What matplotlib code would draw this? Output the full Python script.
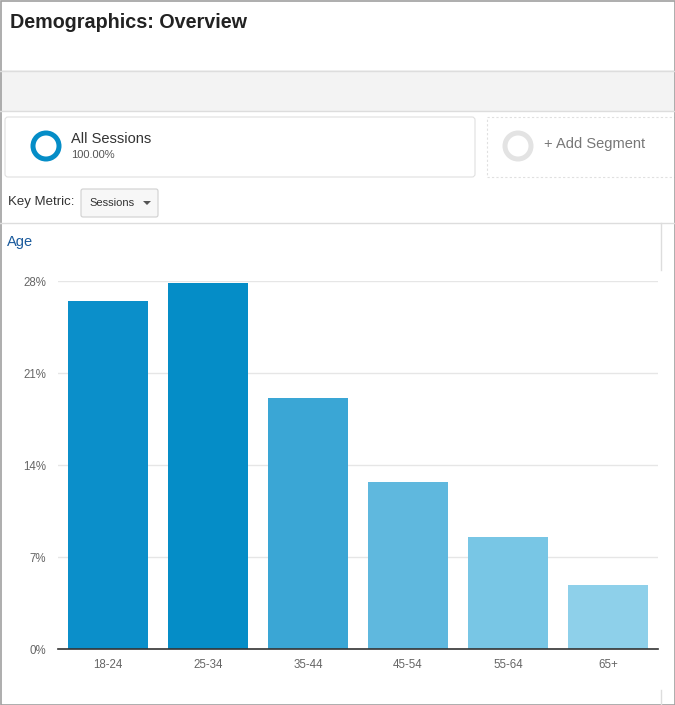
import numpy as np
import matplotlib.pyplot as plt
from matplotlib.patches import Rectangle, FancyBboxPatch, Wedge, Polygon

# Age distribution of sessions (percent)
age_groups = ["18-24", "25-34", "35-44", "45-54", "55-64", "65+"]
sessions_pct = [26.5, 27.85, 19.1, 12.7, 8.5, 4.85]
bar_colors = ["#0b8fca", "#058dc7", "#3aa6d5", "#5fb8de", "#78c6e5", "#8ed0ea"]
y_ticks = [0, 7, 14, 21, 28]

W, H = 675, 705
fig = plt.figure(figsize=(W / 100, H / 100), dpi=100)
fig.patch.set_facecolor("white")

# overlay in pixel coordinates for the page furniture
ui = fig.add_axes([0, 0, 1, 1])
ui.set_xlim(0, W)
ui.set_ylim(H, 0)
ui.axis("off")

font = "Liberation Sans"

ui.text(10, 23, "Demographics: Overview", fontsize=14.2, fontweight="bold",
        color="#222222", va="center", family=font)

# grey band
ui.add_patch(Rectangle((0, 70), W, 41, facecolor="#f3f3f3", edgecolor="none"))
ui.plot([0, W], [70.5, 70.5], color="#dddddd", lw=1)
ui.plot([0, W], [111, 111], color="#dddddd", lw=1)

# segment boxes
ui.add_patch(FancyBboxPatch((5, 117), 470, 60, boxstyle="round,pad=0,rounding_size=3",
                            facecolor="white", edgecolor="#e0e0e0", lw=0.8))
ui.add_patch(Rectangle((487, 117), 200, 60, facecolor="white", edgecolor="#e0e0e0",
                       lw=0.8, linestyle=(0, (2, 2))))
ui.add_patch(Wedge((46, 146), 15.5, 0, 360, width=5, facecolor="#058dc7", edgecolor="none"))
ui.add_patch(Wedge((518, 146), 15.5, 0, 360, width=5, facecolor="#e3e3e3", edgecolor="none"))
ui.text(71, 139, "All Sessions", fontsize=10.5, color="#333333", va="center", family=font)
ui.text(71, 155, "100.00%", fontsize=8, color="#555555", va="center", family=font)
ui.text(544, 144, "+ Add Segment", fontsize=10.5, color="#777777", va="center", family=font)

# key metric selector
ui.text(8, 202, "Key Metric:", fontsize=9.5, color="#333333", va="center", family=font)
ui.add_patch(FancyBboxPatch((81, 189), 77, 28, boxstyle="round,pad=0,rounding_size=2",
                            facecolor="#f7f7f7", edgecolor="#d0d0d0", lw=0.8))
ui.text(89, 203, "Sessions", fontsize=8, color="#333333", va="center", family=font)
ui.add_patch(Polygon([[143, 201], [151, 201], [147, 205]], closed=True,
                     facecolor="#555555", edgecolor="none"))

ui.plot([0, W], [223, 223], color="#dddddd", lw=1)
ui.plot([661, 661], [223, 270], color="#dddddd", lw=1)
ui.plot([661, 661], [690, 705], color="#dddddd", lw=1)
ui.text(7, 242, "Age", fontsize=10.5, color="#1a5a9c", va="center", family=font)

# outer frame
ui.add_patch(Rectangle((0.5, 0.5), W - 1, H - 1, facecolor="none", edgecolor="#a0a0a0", lw=1.2))

# bar chart
ax = fig.add_axes([58 / W, 56 / H, 600 / W, 368 / H])
x = np.arange(len(age_groups))
ax.bar(x, sessions_pct, width=0.8, color=bar_colors, zorder=2)
ax.set_xlim(-0.5, len(age_groups) - 0.5)
ax.set_ylim(0, 28)
ax.set_yticks(y_ticks)
ax.set_yticklabels(["%d%%" % t for t in y_ticks])
ax.set_xticks(x)
ax.set_xticklabels(age_groups)
ax.grid(axis="y", color="#e6e6e6", lw=1, zorder=0)
ax.set_axisbelow(True)
for s in ["top", "right", "left"]:
    ax.spines[s].set_visible(False)
ax.spines["bottom"].set_color("#333333")
ax.spines["bottom"].set_linewidth(1.2)
ax.tick_params(length=0, labelsize=8.3, labelcolor="#666666")
ax.tick_params(axis="y", pad=8.5)
ax.tick_params(axis="x", pad=7)
for lab in ax.get_xticklabels() + ax.get_yticklabels():
    lab.set_family(font)
ax.patch.set_alpha(0)

fig.savefig("out.png", dpi=100)
